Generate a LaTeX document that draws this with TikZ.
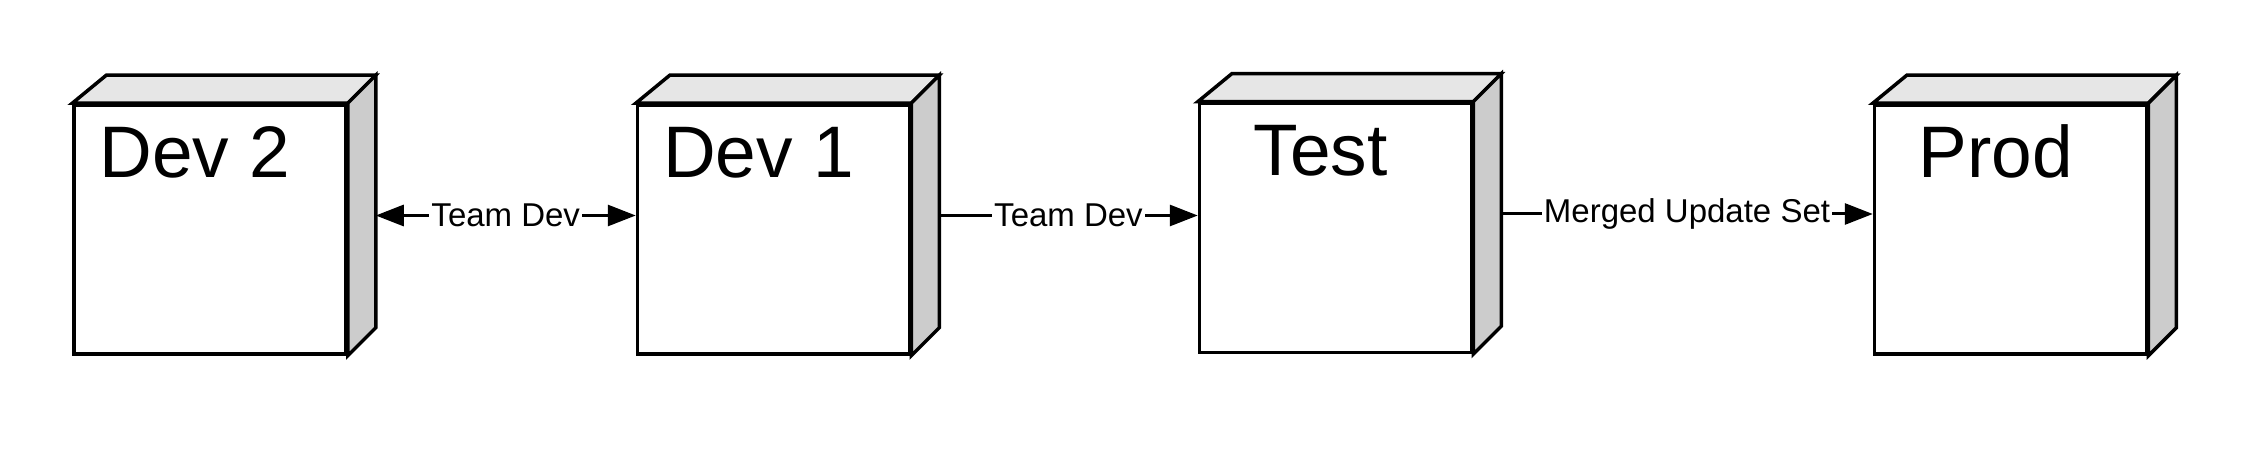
\documentclass[tikz,border=0pt]{standalone}
\usepackage{fontspec}
\setmainfont{Liberation Sans}
\usetikzlibrary{arrows.meta}
\definecolor{topgray}{HTML}{E6E6E6}
\definecolor{sidegray}{HTML}{CCCCCC}
\tikzset{
  envbox/.style={draw, line width=3.5pt, fill=white, minimum width=272pt, minimum height=249pt, inner sep=0pt},
  envtitle/.style={anchor=base, inner sep=0pt, font=\fontsize{73}{73}\selectfont},
  flow/.style={line width=3pt, >={Triangle[length=28pt,width=21pt]}},
  flowlabel/.style={fill=white, inner sep=2pt, font=\fontsize{33}{33}\selectfont}
}
\begin{document}
\begin{tikzpicture}[x=1pt,y=1pt]
        \useasboundingbox (0,0) rectangle (2250,450);

          \node[envbox] (dev2) at (210,220.5) {};
          \node[envbox] (dev1) at (773.5,220.5) {};
          \node[envbox] (test) at (1335.5,222) {};
          \node[envbox] (prod) at (2010.5,220.5) {};

          % top and side faces
          \foreach \n in {dev2,dev1,test,prod}{
            \draw[line width=3.5pt, miter limit=4, fill=topgray] (\n.north west) -- ([shift={(34,28)}]\n.north west)
              -- ([shift={(28,28)}]\n.north east) -- (\n.north east) -- cycle;
            \draw[line width=3.5pt, miter limit=4, fill=sidegray] (\n.north east) -- ([shift={(28,28)}]\n.north east)
              -- ([shift={(28,28)}]\n.south east) -- (\n.south east) -- cycle;
            \coordinate (\n-side) at ([shift={(28,14)}]\n.east);
          }

          \node[envtitle] (dev2t) at ([shift={(-15,-74)}]dev2.north) {Dev 2};
          \node[envtitle] (dev1t) at ([shift={(-15,-74)}]dev1.north) {Dev 1};
          \node[envtitle] (testt) at ([shift={(-15,-74)}]test.north) {Test};
          \node[envtitle] (prodt) at ([shift={(-15,-74)}]prod.north) {Prod};

          \draw[flow,<->] (dev2-side) -- node[flowlabel] (lab1) {Team Dev} (dev2-side -| dev1.west);
          \draw[flow,->] (dev1-side) -- node[flowlabel] (lab2) {Team Dev} (dev1-side -| test.west);
          \draw[flow,->] (test-side) -- node[flowlabel] (lab3) {Merged Update Set} (test-side -| prod.west);
        \end{tikzpicture}
\end{document}
